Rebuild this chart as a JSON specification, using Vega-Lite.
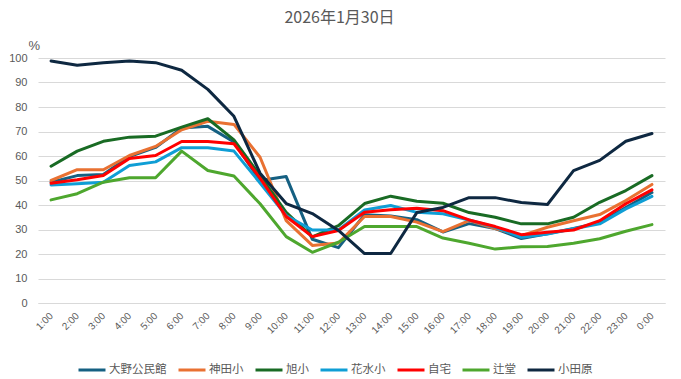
{
  "$schema": "https://vega.github.io/schema/vega-lite/v6.json",
  "width": 627,
  "height": 245,
  "autosize": {"type": "none"},
  "padding": {"left": 38, "top": 58, "right": 16, "bottom": 76},
  "background": "white",
  "title": {
    "text": "2026年1月30日",
    "font": "Noto Sans CJK JP",
    "fontSize": 16,
    "fontWeight": "normal",
    "color": "#595959",
    "anchor": "middle",
    "frame": "group",
    "dx": -12,
    "offset": 13
  },
  "data": {
    "values": [
      {"t":"1:00","s":"大野公民館","v":49.3},{"t":"2:00","s":"大野公民館","v":52},{"t":"3:00","s":"大野公民館","v":52.5},{"t":"4:00","s":"大野公民館","v":59.8},{"t":"5:00","s":"大野公民館","v":63.5},{"t":"6:00","s":"大野公民館","v":71.4},{"t":"7:00","s":"大野公民館","v":72.1},{"t":"8:00","s":"大野公民館","v":65.7},{"t":"9:00","s":"大野公民館","v":50},{"t":"10:00","s":"大野公民館","v":51.6},{"t":"11:00","s":"大野公民館","v":26},{"t":"12:00","s":"大野公民館","v":22.6},{"t":"13:00","s":"大野公民館","v":36},{"t":"14:00","s":"大野公民館","v":35.5},{"t":"15:00","s":"大野公民館","v":34},{"t":"16:00","s":"大野公民館","v":29},{"t":"17:00","s":"大野公民館","v":32.4},{"t":"18:00","s":"大野公民館","v":30.4},{"t":"19:00","s":"大野公民館","v":26.3},{"t":"20:00","s":"大野公民館","v":28.3},{"t":"21:00","s":"大野公民館","v":30.4},{"t":"22:00","s":"大野公民館","v":32.8},{"t":"23:00","s":"大野公民館","v":39},{"t":"0:00","s":"大野公民館","v":45.1},
      {"t":"1:00","s":"神田小","v":50},{"t":"2:00","s":"神田小","v":54.4},{"t":"3:00","s":"神田小","v":54.4},{"t":"4:00","s":"神田小","v":60.2},{"t":"5:00","s":"神田小","v":63.9},{"t":"6:00","s":"神田小","v":70.7},{"t":"7:00","s":"神田小","v":74.2},{"t":"8:00","s":"神田小","v":72.9},{"t":"9:00","s":"神田小","v":59.5},{"t":"10:00","s":"神田小","v":33.6},{"t":"11:00","s":"神田小","v":23.5},{"t":"12:00","s":"神田小","v":24.5},{"t":"13:00","s":"神田小","v":35.3},{"t":"14:00","s":"神田小","v":35.3},{"t":"15:00","s":"神田小","v":33},{"t":"16:00","s":"神田小","v":29.1},{"t":"17:00","s":"神田小","v":33.6},{"t":"18:00","s":"神田小","v":30.4},{"t":"19:00","s":"神田小","v":27.5},{"t":"20:00","s":"神田小","v":30.9},{"t":"21:00","s":"神田小","v":33.6},{"t":"22:00","s":"神田小","v":36.1},{"t":"23:00","s":"神田小","v":41.8},{"t":"0:00","s":"神田小","v":48.4},
      {"t":"1:00","s":"旭小","v":55.8},{"t":"2:00","s":"旭小","v":62},{"t":"3:00","s":"旭小","v":66},{"t":"4:00","s":"旭小","v":67.7},{"t":"5:00","s":"旭小","v":68.1},{"t":"6:00","s":"旭小","v":71.8},{"t":"7:00","s":"旭小","v":75.2},{"t":"8:00","s":"旭小","v":66.6},{"t":"9:00","s":"旭小","v":52},{"t":"10:00","s":"旭小","v":37},{"t":"11:00","s":"旭小","v":27},{"t":"12:00","s":"旭小","v":31.6},{"t":"13:00","s":"旭小","v":40.6},{"t":"14:00","s":"旭小","v":43.6},{"t":"15:00","s":"旭小","v":41.5},{"t":"16:00","s":"旭小","v":40.7},{"t":"17:00","s":"旭小","v":36.9},{"t":"18:00","s":"旭小","v":35},{"t":"19:00","s":"旭小","v":32.3},{"t":"20:00","s":"旭小","v":32.3},{"t":"21:00","s":"旭小","v":35},{"t":"22:00","s":"旭小","v":41.1},{"t":"23:00","s":"旭小","v":45.9},{"t":"0:00","s":"旭小","v":52},
      {"t":"1:00","s":"花水小","v":48.2},{"t":"2:00","s":"花水小","v":48.7},{"t":"3:00","s":"花水小","v":49.3},{"t":"4:00","s":"花水小","v":56.1},{"t":"5:00","s":"花水小","v":57.6},{"t":"6:00","s":"花水小","v":63.4},{"t":"7:00","s":"花水小","v":63.4},{"t":"8:00","s":"花水小","v":62},{"t":"9:00","s":"花水小","v":49},{"t":"10:00","s":"花水小","v":35.7},{"t":"11:00","s":"花水小","v":29.8},{"t":"12:00","s":"花水小","v":29.8},{"t":"13:00","s":"花水小","v":38},{"t":"14:00","s":"花水小","v":39.8},{"t":"15:00","s":"花水小","v":37},{"t":"16:00","s":"花水小","v":36.4},{"t":"17:00","s":"花水小","v":33.9},{"t":"18:00","s":"花水小","v":30.9},{"t":"19:00","s":"花水小","v":26.8},{"t":"20:00","s":"花水小","v":28.2},{"t":"21:00","s":"花水小","v":30.3},{"t":"22:00","s":"花水小","v":32.3},{"t":"23:00","s":"花水小","v":38.4},{"t":"0:00","s":"花水小","v":43.5},
      {"t":"1:00","s":"自宅","v":48.9},{"t":"2:00","s":"自宅","v":50.3},{"t":"3:00","s":"自宅","v":52},{"t":"4:00","s":"自宅","v":59},{"t":"5:00","s":"自宅","v":60.2},{"t":"6:00","s":"自宅","v":65.9},{"t":"7:00","s":"自宅","v":65.9},{"t":"8:00","s":"自宅","v":65},{"t":"9:00","s":"自宅","v":51},{"t":"10:00","s":"自宅","v":35.3},{"t":"11:00","s":"自宅","v":27.1},{"t":"12:00","s":"自宅","v":29.6},{"t":"13:00","s":"自宅","v":37},{"t":"14:00","s":"自宅","v":38.1},{"t":"15:00","s":"自宅","v":38.7},{"t":"16:00","s":"自宅","v":37.7},{"t":"17:00","s":"自宅","v":33.9},{"t":"18:00","s":"自宅","v":31.2},{"t":"19:00","s":"自宅","v":27.9},{"t":"20:00","s":"自宅","v":28.9},{"t":"21:00","s":"自宅","v":29.8},{"t":"22:00","s":"自宅","v":33.6},{"t":"23:00","s":"自宅","v":40.5},{"t":"0:00","s":"自宅","v":46.2},
      {"t":"1:00","s":"辻堂","v":42.1},{"t":"2:00","s":"辻堂","v":44.6},{"t":"3:00","s":"辻堂","v":49.3},{"t":"4:00","s":"辻堂","v":51.1},{"t":"5:00","s":"辻堂","v":51.1},{"t":"6:00","s":"辻堂","v":62},{"t":"7:00","s":"辻堂","v":54.1},{"t":"8:00","s":"辻堂","v":51.8},{"t":"9:00","s":"辻堂","v":40.5},{"t":"10:00","s":"辻堂","v":27.1},{"t":"11:00","s":"辻堂","v":20.7},{"t":"12:00","s":"辻堂","v":24.8},{"t":"13:00","s":"辻堂","v":31.2},{"t":"14:00","s":"辻堂","v":31.2},{"t":"15:00","s":"辻堂","v":31.2},{"t":"16:00","s":"辻堂","v":26.5},{"t":"17:00","s":"辻堂","v":24.4},{"t":"18:00","s":"辻堂","v":22},{"t":"19:00","s":"辻堂","v":23},{"t":"20:00","s":"辻堂","v":23.1},{"t":"21:00","s":"辻堂","v":24.4},{"t":"22:00","s":"辻堂","v":26.2},{"t":"23:00","s":"辻堂","v":29.3},{"t":"0:00","s":"辻堂","v":32},
      {"t":"1:00","s":"小田原","v":98.8},{"t":"2:00","s":"小田原","v":97},{"t":"3:00","s":"小田原","v":98.1},{"t":"4:00","s":"小田原","v":98.8},{"t":"5:00","s":"小田原","v":98.1},{"t":"6:00","s":"小田原","v":95},{"t":"7:00","s":"小田原","v":87.2},{"t":"8:00","s":"小田原","v":76.2},{"t":"9:00","s":"小田原","v":53},{"t":"10:00","s":"小田原","v":40.6},{"t":"11:00","s":"小田原","v":36.5},{"t":"12:00","s":"小田原","v":29.6},{"t":"13:00","s":"小田原","v":20.2},{"t":"14:00","s":"小田原","v":20.2},{"t":"15:00","s":"小田原","v":36.9},{"t":"16:00","s":"小田原","v":39},{"t":"17:00","s":"小田原","v":43},{"t":"18:00","s":"小田原","v":43},{"t":"19:00","s":"小田原","v":41},{"t":"20:00","s":"小田原","v":40.2},{"t":"21:00","s":"小田原","v":54},{"t":"22:00","s":"小田原","v":58.2},{"t":"23:00","s":"小田原","v":66},{"t":"0:00","s":"小田原","v":69.2}
    ]
  },
  "mark": {"type": "line", "strokeWidth": 3, "strokeJoin": "round", "strokeCap": "round"},
  "encoding": {
    "x": {
      "field": "t",
      "type": "ordinal",
      "sort": null,
      "scale": {"padding": 0.5},
      "axis": {
        "title": null,
        "labelAngle": -45,
        "labelAlign": "right",
        "labelBaseline": "middle",
        "labelFont": "Liberation Sans",
        "labelFontSize": 10,
        "labelColor": "#595959",
        "labelPadding": 11,
        "ticks": false,
        "tickSize": 0,
        "domain": true,
        "domainColor": "#d9d9d9",
        "domainWidth": 1,
        "grid": false
      }
    },
    "y": {
      "field": "v",
      "type": "quantitative",
      "scale": {"domain": [0, 100], "nice": false, "zero": true},
      "axis": {
        "values": [0, 10, 20, 30, 40, 50, 60, 70, 80, 90, 100],
        "title": "%",
        "titleAngle": 0,
        "titleAlign": "left",
        "titleBaseline": "alphabetic",
        "titleX": -10,
        "titleY": -9,
        "titleFont": "Liberation Sans",
        "titleFontSize": 13,
        "titleFontWeight": "normal",
        "titleColor": "#595959",
        "labelFont": "Liberation Sans",
        "labelFontSize": 11,
        "labelColor": "#595959",
        "labelPadding": 11,
        "ticks": false,
        "tickSize": 0,
        "domain": false,
        "grid": true,
        "gridColor": "#d9d9d9",
        "gridWidth": 1
      }
    },
    "color": {
      "field": "s",
      "type": "nominal",
      "sort": ["大野公民館", "神田小", "旭小", "花水小", "自宅", "辻堂", "小田原"],
      "scale": {
        "domain": ["大野公民館", "神田小", "旭小", "花水小", "自宅", "辻堂", "小田原"],
        "range": ["#156082", "#E97132", "#196B24", "#0F9ED5", "#FF0000", "#4EA72E", "#0E2841"]
      },
      "legend": {
        "title": null,
        "orient": "none",
        "direction": "horizontal",
        "legendX": 39,
        "legendY": 297,
        "symbolType": "stroke",
        "symbolSize": 729,
        "symbolStrokeWidth": 3,
        "labelFont": "Noto Sans CJK JP",
        "labelFontSize": 11.5,
        "labelColor": "#595959",
        "labelOffset": 2,
        "columnPadding": 5
      }
    },
    "strokeWidth": {
      "condition": {"test": "datum.s === '自宅'", "value": 4},
      "value": 3
    }
  },
  "config": {
    "view": {"stroke": null}
  }
}
